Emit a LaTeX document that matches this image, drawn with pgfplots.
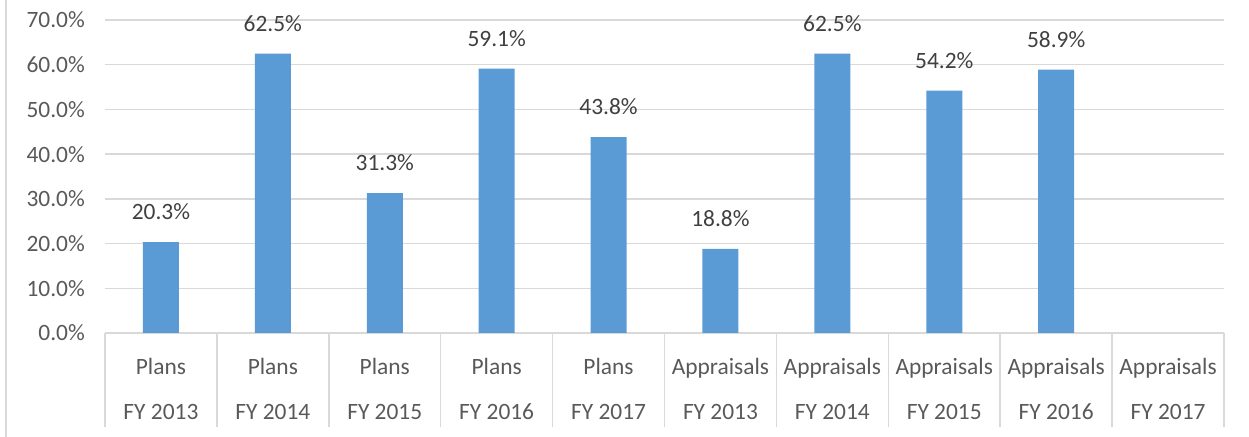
\documentclass[border=0pt]{standalone}
\usepackage{fontspec}
\setmainfont{Carlito}
\usepackage{pgfplots}
\pgfplotsset{compat=1.18}
\definecolor{barblue}{HTML}{5B9BD5}
\definecolor{gridgray}{HTML}{D9D9D9}
\definecolor{txtgray}{HTML}{595959}
\definecolor{lblgray}{HTML}{404040}
\begin{document}
\begin{tikzpicture}[x=1bp,y=1bp]
\path[use as bounding box] (0,0) rectangle (1249,437);
\draw[gridgray, line width=1.5bp] (6,0) -- (6,437);
\begin{axis}[
  at={(105bp,104bp)}, anchor=south west,
  scale only axis, width=1119bp, height=313bp,
  xmin=-0.5, xmax=9.5, ymin=0, ymax=70,
  ytick={0,10,...,70},
  ymajorgrids, grid style={gridgray, line width=1.5bp},
  axis x line*=bottom, axis y line*=left,
  y axis line style={draw=none},
  x axis line style={gridgray, line width=1.5bp},
  /pgf/number format/assume math mode=true,
  yticklabel={\pgfmathprintnumber[fixed,fixed zerofill,precision=1]{\tick}\%},
  yticklabel style={font=\fontsize{23.5}{28}\selectfont, text=txtgray, anchor=east, inner sep=0pt, xshift=-20bp},
  ytick style={draw=none},
  xtick={-0.5,0.5,1.5,2.5,3.5,4.5,5.5,6.5,7.5,8.5,9.5},
  xticklabels={,,,,,,,,,,},
  x tick style={draw=gridgray, line width=1.5bp},
  xtick align=outside,
  major tick length=94bp,
  extra x ticks={0,1,2,3,4,5,6,7,8,9},
  extra x tick labels={{Plans\\FY 2013},{Plans\\FY 2014},{Plans\\FY 2015},{Plans\\FY 2016},{Plans\\FY 2017},{Appraisals\\FY 2013},{Appraisals\\FY 2014},{Appraisals\\FY 2015},{Appraisals\\FY 2016},{Appraisals\\FY 2017}},
  extra x tick style={major tick length=0bp, grid=none},
  xticklabel style={font=\fontsize{23.5}{45}\selectfont, text=txtgray, align=center, anchor=north, inner sep=0pt, yshift=-25bp},
  clip=false,
]
\addplot[ybar, bar width=36bp, fill=barblue, draw=none,
  nodes near coords={\pgfmathprintnumber[fixed,fixed zerofill,precision=1]{\pgfplotspointmeta}\%},
  nodes near coords style={font=\fontsize{23.5}{28}\selectfont, text=lblgray, anchor=south, inner sep=0pt, yshift=22bp},
] coordinates {(0,20.3) (1,62.5) (2,31.3) (3,59.1) (4,43.8) (5,18.8) (6,62.5) (7,54.2) (8,58.9)};
\end{axis}
\end{tikzpicture}
\end{document}
